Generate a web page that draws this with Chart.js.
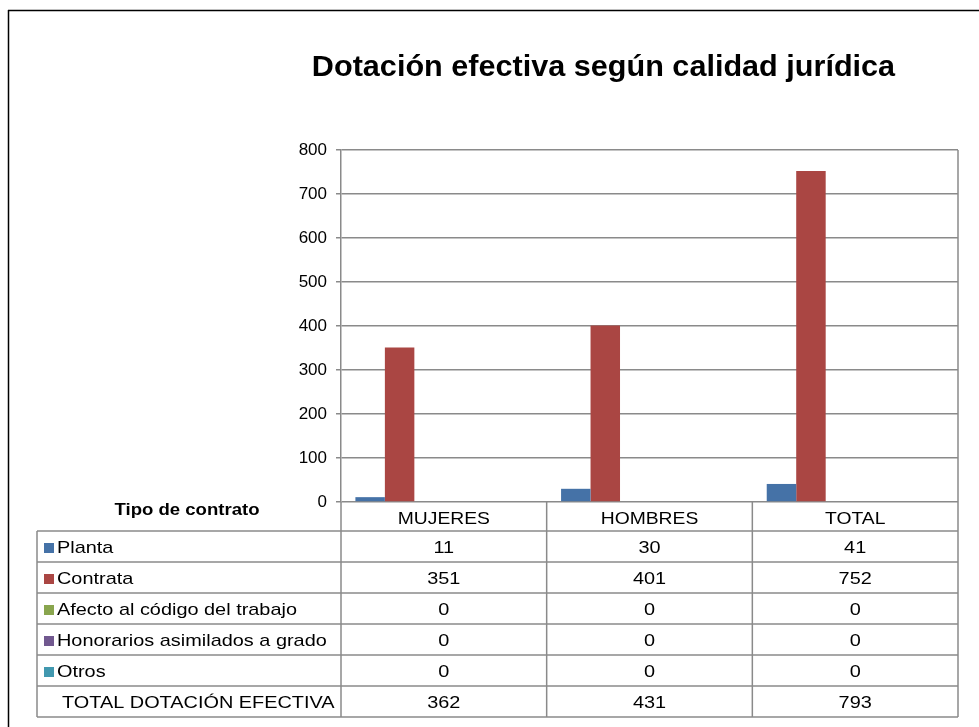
<!DOCTYPE html>
<html>
<head>
<meta charset="utf-8">
<script src="https://cdn.jsdelivr.net/npm/chart.js@4/dist/chart.umd.min.js"></script>
<style>
html,body{margin:0;padding:0;background:#fff;}
#wrap{width:979px;height:727px;position:relative;}
canvas{display:block;}
</style>
</head>
<body>
<div id="wrap"><canvas id="c" width="979" height="727"></canvas></div>
<script>
const chartTitle = 'Dotación efectiva según calidad jurídica';
const tableHeader = 'Tipo de contrato';
const categories = ['MUJERES', 'HOMBRES', 'TOTAL'];
const seriesNames = ['Planta', 'Contrata', 'Afecto al código del trabajo', 'Honorarios asimilados a grado', 'Otros', 'TOTAL DOTACIÓN EFECTIVA'];
const planta = [11, 30, 41];
const contrata = [351, 401, 752];
const afecto = [0, 0, 0];
const honorarios = [0, 0, 0];
const otros = [0, 0, 0];
const totalDotacion = [362, 431, 793];
const yMin = 0, yMax = 800, yStep = 100;

const seriesValues = [planta, contrata, afecto, honorarios, otros, totalDotacion];
const seriesColors = ['#4572A7', '#AA4643', '#89A54E', '#71588F', '#4198AF', 'rgba(0,0,0,0)'];

const LINE = '#8a8a8a';
const FONT = '"Liberation Sans", Arial, sans-serif';
const SX = 1.17;

function stxt(ctx, s, x, y, align, font, sx) {
  ctx.save();
  ctx.font = font;
  ctx.fillStyle = '#000';
  ctx.textBaseline = 'alphabetic';
  ctx.translate(x, y);
  ctx.scale(sx, 1);
  ctx.textAlign = align;
  ctx.fillText(s, 0, 0);
  ctx.restore();
}
function line(ctx, x1, y1, x2, y2, w, c) {
  ctx.save();
  ctx.strokeStyle = c || LINE;
  ctx.lineWidth = w || 1.5;
  ctx.beginPath();
  ctx.moveTo(x1, y1);
  ctx.lineTo(x2, y2);
  ctx.stroke();
  ctx.restore();
}

const framePlugin = {
  id: 'frame',
  beforeDraw(chart) {
    const ctx = chart.ctx;
    ctx.save();
    ctx.fillStyle = '#fff';
    ctx.fillRect(0, 0, chart.width, chart.height);
    ctx.restore();
  },
  afterDraw(chart) {
    const ctx = chart.ctx;
    const xs = chart.scales.x;
    const area = chart.chartArea;
    const n = categories.length;
    const catW = xs.width / n;
    const tableLeft = 37;
    const headTop = area.bottom;
    const headH = 29;
    const rowH = 31;
    const rowsTop = headTop + headH;
    const nRows = seriesNames.length;
    const tableBottom = rowsTop + rowH * nRows;

    // outer frame
    line(ctx, 8.5, 10, 8.5, chart.height, 1.5, '#000');
    line(ctx, 8, 10.5, chart.width, 10.5, 1.5, '#000');

    // title
    stxt(ctx, chartTitle, 603.5, 76, 'center', 'bold 30px ' + FONT, 1.02);

    // plot right border
    line(ctx, area.right, area.top, area.right, tableBottom);
    // axis extension through table
    line(ctx, area.left, area.bottom, area.left, tableBottom);
    // column separators
    for (let i = 1; i < n; i++) {
      const xb = xs.getPixelForValue(i) - catW / 2;
      line(ctx, xb, headTop, xb, tableBottom);
    }
    // row lines
    for (let k = 0; k <= nRows; k++) {
      const y = rowsTop + rowH * k;
      line(ctx, tableLeft, y, area.right, y);
    }
    line(ctx, tableLeft, rowsTop, tableLeft, tableBottom);

    // header texts
    stxt(ctx, tableHeader, (tableLeft + area.left) / 2 - 2, headTop + 13, 'center', 'bold 16px ' + FONT, 1.16);
    for (let i = 0; i < n; i++) {
      stxt(ctx, categories[i], xs.getPixelForValue(i), headTop + 22, 'center', '16.5px ' + FONT, SX);
    }

    // rows
    for (let r = 0; r < nRows; r++) {
      const top = rowsTop + rowH * r;
      const base = top + 22;
      const ds = chart.data.datasets[r];
      if (r < nRows - 1) {
        ctx.save();
        ctx.fillStyle = ds.backgroundColor;
        ctx.fillRect(44, top + 12, 10, 10);
        ctx.restore();
        stxt(ctx, seriesNames[r], 57, base, 'left', '17px ' + FONT, SX);
      } else {
        stxt(ctx, seriesNames[r], 62, base, 'left', '17px ' + FONT, SX);
      }
      for (let i = 0; i < n; i++) {
        stxt(ctx, String(ds.data[i]), xs.getPixelForValue(i), base, 'center', '17px ' + FONT, SX);
      }
    }
  }
};

const datasets = seriesNames.map((name, i) => ({
  label: name,
  data: seriesValues[i],
  backgroundColor: seriesColors[i],
  borderWidth: 0,
  categoryPercentage: 0.86,
  barPercentage: 1.0
}));

new Chart(document.getElementById('c'), {
  type: 'bar',
  data: { labels: categories, datasets: datasets },
  plugins: [framePlugin],
  options: {
    responsive: false,
    animation: false,
    events: [],
    layout: { padding: { top: 150, right: 21, left: 0, bottom: 0 } },
    plugins: {
      legend: { display: false },
      title: { display: false },
      tooltip: { enabled: false }
    },
    scales: {
      x: {
        grid: { display: false, drawTicks: false },
        border: { display: false },
        ticks: { display: false },
        afterFit(scale) { scale.height = 225; }
      },
      y: {
        min: yMin,
        max: yMax,
        ticks: {
          stepSize: yStep,
          color: '#000',
          font: { family: FONT, size: 17 },
          padding: 9
        },
        grid: { color: LINE, lineWidth: 1.5, tickLength: 5, drawTicks: true },
        border: { display: true, color: LINE, width: 1.5 },
        afterFit(scale) { scale.width = 341; }
      }
    }
  }
});
</script>
</body>
</html>
